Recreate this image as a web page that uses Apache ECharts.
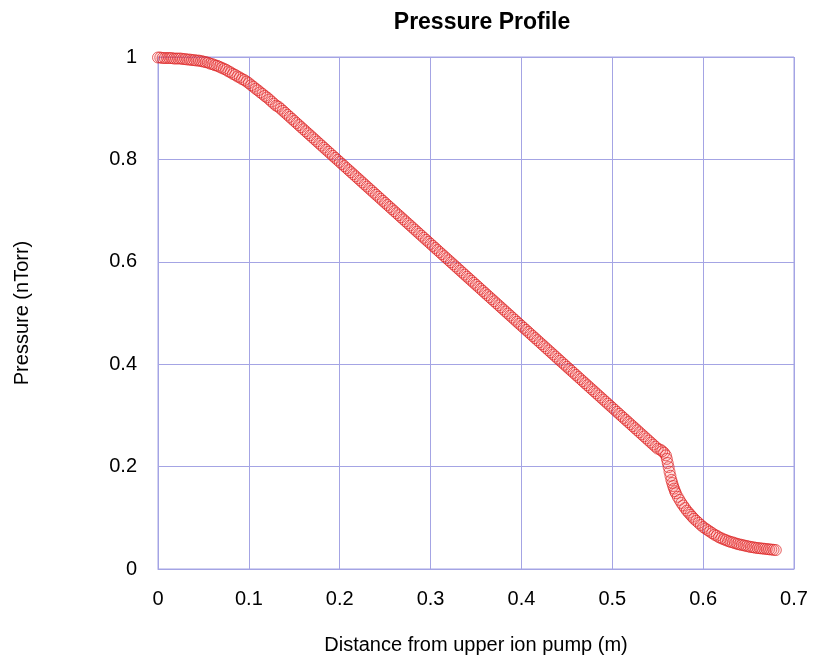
<!DOCTYPE html>
<html>
<head>
<meta charset="utf-8">
<script src="https://cdn.jsdelivr.net/npm/echarts@6/dist/echarts.min.js"></script>
<style>
  html, body { margin: 0; padding: 0; background: #fff; }
  #main { width: 817px; height: 665px; }
</style>
</head>
<body>
<div id="main"></div>
<script>
// distance from upper ion pump (m) / pressure (nTorr) in pieces

// flat part near the pump
var plateauX = [
  0.000, 0.0025, 0.005, 0.0075, 0.010, 0.0125, 0.015, 0.0175, 0.020, 0.0225,
  0.025, 0.0275, 0.030, 0.0325, 0.035, 0.0375, 0.040, 0.0425, 0.045, 0.0475,
  0.050, 0.0525, 0.055, 0.0575, 0.060, 0.0625, 0.065, 0.0675, 0.070, 0.0725,
  0.075, 0.0775, 0.080, 0.0825, 0.085, 0.0875, 0.090, 0.0925, 0.095, 0.0975,
  0.100, 0.1025, 0.105, 0.1075, 0.110, 0.1125, 0.115, 0.1175, 0.120, 0.1225,
  0.125, 0.1275, 0.130
];
var plateauY = [
  0.999, 0.999, 0.998, 0.998, 0.998, 0.998, 0.998, 0.997, 0.997, 0.997,
  0.997, 0.996, 0.996, 0.995, 0.995, 0.994, 0.994, 0.993, 0.993, 0.992,
  0.991, 0.990, 0.989, 0.987, 0.986, 0.984, 0.983, 0.981, 0.979, 0.977,
  0.975, 0.972, 0.970, 0.967, 0.965, 0.962, 0.960, 0.957, 0.955, 0.952,
  0.949, 0.945, 0.942, 0.938, 0.935, 0.931, 0.928, 0.924, 0.921, 0.917,
  0.913, 0.909, 0.905
];

// long straight drop
var slopeX = [
  0.1325, 0.135, 0.1375, 0.140, 0.1425, 0.145, 0.1475, 0.150, 0.1525, 0.155,
  0.1575, 0.160, 0.1625, 0.165, 0.1675, 0.170, 0.1725, 0.175, 0.1775, 0.180,
  0.1825, 0.185, 0.1875, 0.190, 0.1925, 0.195, 0.1975, 0.200, 0.2025, 0.205,
  0.2075, 0.210, 0.2125, 0.215, 0.2175, 0.220, 0.2225, 0.225, 0.2275, 0.230,
  0.2325, 0.235, 0.2375, 0.240, 0.2425, 0.245, 0.2475, 0.250, 0.2525, 0.255,
  0.2575, 0.260, 0.2625, 0.265, 0.2675, 0.270, 0.2725, 0.275, 0.2775, 0.280,
  0.2825, 0.285, 0.2875, 0.290, 0.2925, 0.295, 0.2975, 0.300, 0.3025, 0.305,
  0.3075, 0.310, 0.3125, 0.315, 0.3175, 0.320, 0.3225, 0.325, 0.3275, 0.330,
  0.3325, 0.335, 0.3375, 0.340, 0.3425, 0.345, 0.3475, 0.350, 0.3525, 0.355,
  0.3575, 0.360, 0.3625, 0.365, 0.3675, 0.370, 0.3725, 0.375, 0.3775, 0.380,
  0.3825, 0.385, 0.3875, 0.390, 0.3925, 0.395, 0.3975, 0.400, 0.4025, 0.405,
  0.4075, 0.410, 0.4125, 0.415, 0.4175, 0.420, 0.4225, 0.425, 0.4275, 0.430,
  0.4325, 0.435, 0.4375, 0.440, 0.4425, 0.445, 0.4475, 0.450, 0.4525, 0.455,
  0.4575, 0.460, 0.4625, 0.465, 0.4675, 0.470, 0.4725, 0.475, 0.4775, 0.480,
  0.4825, 0.485, 0.4875, 0.490, 0.4925, 0.495, 0.4975, 0.500, 0.5025, 0.505,
  0.5075, 0.510, 0.5125, 0.515, 0.5175, 0.520, 0.5225, 0.525, 0.5275, 0.530,
  0.5325, 0.535, 0.5375, 0.540, 0.5425, 0.545, 0.5475, 0.550
];
var slopeY = [
  0.903, 0.899, 0.895, 0.891, 0.887, 0.883, 0.879, 0.875, 0.871, 0.867,
  0.863, 0.859, 0.855, 0.851, 0.847, 0.843, 0.839, 0.835, 0.831, 0.827,
  0.823, 0.819, 0.815, 0.811, 0.807, 0.803, 0.799, 0.795, 0.791, 0.787,
  0.783, 0.779, 0.775, 0.771, 0.767, 0.763, 0.759, 0.755, 0.751, 0.747,
  0.743, 0.739, 0.735, 0.731, 0.727, 0.723, 0.719, 0.715, 0.711, 0.707,
  0.703, 0.699, 0.695, 0.691, 0.687, 0.683, 0.679, 0.675, 0.671, 0.667,
  0.663, 0.659, 0.655, 0.651, 0.647, 0.643, 0.639, 0.635, 0.631, 0.627,
  0.623, 0.619, 0.615, 0.611, 0.607, 0.603, 0.599, 0.595, 0.591, 0.587,
  0.583, 0.579, 0.575, 0.571, 0.567, 0.563, 0.559, 0.555, 0.551, 0.547,
  0.543, 0.539, 0.535, 0.531, 0.527, 0.523, 0.519, 0.515, 0.511, 0.507,
  0.503, 0.499, 0.495, 0.491, 0.487, 0.483, 0.479, 0.475, 0.471, 0.467,
  0.463, 0.459, 0.455, 0.451, 0.447, 0.443, 0.439, 0.435, 0.431, 0.427,
  0.423, 0.419, 0.415, 0.411, 0.407, 0.403, 0.399, 0.395, 0.391, 0.387,
  0.383, 0.379, 0.375, 0.371, 0.367, 0.363, 0.359, 0.355, 0.351, 0.347,
  0.343, 0.339, 0.335, 0.331, 0.327, 0.323, 0.319, 0.315, 0.311, 0.307,
  0.303, 0.299, 0.295, 0.291, 0.287, 0.283, 0.279, 0.275, 0.271, 0.267,
  0.263, 0.259, 0.255, 0.251, 0.247, 0.243, 0.239, 0.235
];

// sharp knee near 0.56 m
var kneeX = [
  0.553, 0.555, 0.557, 0.559, 0.560, 0.561, 0.562, 0.563, 0.564, 0.565,
  0.566, 0.567, 0.568, 0.569, 0.570, 0.572, 0.574, 0.576, 0.578, 0.580,
  0.582, 0.584, 0.586, 0.588, 0.590, 0.5925, 0.595, 0.5975, 0.600
];
var kneeY = [
  0.233, 0.230, 0.227, 0.222, 0.215, 0.207, 0.199, 0.190, 0.182, 0.174,
  0.168, 0.162, 0.157, 0.152, 0.148, 0.141, 0.135, 0.129, 0.124, 0.119,
  0.114, 0.110, 0.106, 0.102, 0.098, 0.094, 0.090, 0.086, 0.082
];

// tail towards the far end
var tailX = [
  0.6025, 0.605, 0.6075, 0.610, 0.6125, 0.615, 0.6175, 0.620, 0.6225, 0.625,
  0.6275, 0.630, 0.6325, 0.635, 0.6375, 0.640, 0.6425, 0.645, 0.6475, 0.650,
  0.6525, 0.655, 0.6575, 0.660, 0.6625, 0.665, 0.6675, 0.670, 0.6725, 0.675,
  0.6775, 0.680
];
var tailY = [
  0.079, 0.076, 0.073, 0.070, 0.067, 0.065, 0.062, 0.060, 0.058, 0.0565,
  0.0545, 0.053, 0.052, 0.0505, 0.049, 0.048, 0.047, 0.046, 0.045, 0.044,
  0.043, 0.0425, 0.0415, 0.041, 0.0405, 0.040, 0.0395, 0.039, 0.0385, 0.038,
  0.0375, 0.037
];

var gridColor = '#a4a4e4';
var font = 'Arial, "Liberation Sans", sans-serif';

var xs = plateauX.concat(slopeX, kneeX, tailX);
var ys = plateauY.concat(slopeY, kneeY, tailY);
var points = [];
for (var i = 0; i < xs.length; i++) {
  points.push([xs[i], ys[i]]);
}

var chart = echarts.init(document.getElementById('main'));
chart.setOption({
  animation: false,
  backgroundColor: '#fff',
  title: {
    text: 'Pressure Profile',
    left: 477,
    top: 6,
    textAlign: 'center',
    textStyle: { fontFamily: font, fontSize: 23, fontWeight: 'bold', color: '#000' }
  },
  grid: {
    left: 158, top: 57, right: 23, bottom: 96,
    show: true, borderColor: gridColor, borderWidth: 1
  },
  xAxis: {
    type: 'value',
    min: 0, max: 0.7, interval: 0.1,
    name: 'Distance from upper ion pump (m)',
    nameLocation: 'middle',
    nameGap: 66,
    nameTextStyle: { fontFamily: font, fontSize: 20, color: '#000' },
    axisLine: { show: true, lineStyle: { color: gridColor } },
    axisTick: { show: true, inside: true, length: 5, lineStyle: { color: gridColor } },
    axisLabel: { margin: 20, fontFamily: font, fontSize: 20, color: '#000' },
    splitLine: { show: true, lineStyle: { color: gridColor, width: 1 } }
  },
  yAxis: {
    type: 'value',
    min: 0, max: 1, interval: 0.2,
    name: 'Pressure (nTorr)',
    nameLocation: 'middle',
    nameGap: 126,
    nameRotate: 90,
    nameTextStyle: { fontFamily: font, fontSize: 20, color: '#000' },
    axisLine: { show: true, lineStyle: { color: gridColor } },
    axisTick: { show: true, inside: true, length: 5, lineStyle: { color: gridColor } },
    axisLabel: { margin: 21, fontFamily: font, fontSize: 20, color: '#000' },
    splitLine: { show: true, lineStyle: { color: gridColor, width: 1 } }
  },
  series: [{
    type: 'scatter',
    data: points,
    symbol: 'circle',
    symbolSize: 11,
    itemStyle: {
      color: 'rgba(255,100,100,0.12)',
      borderColor: 'rgba(220,30,30,0.85)',
      borderWidth: 1
    }
  }]
});
</script>
</body>
</html>
